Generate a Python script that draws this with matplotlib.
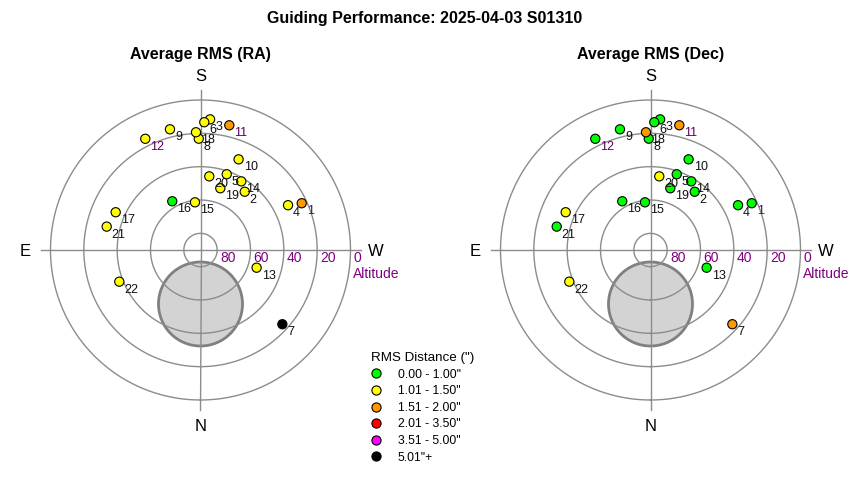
import numpy as np
import matplotlib
matplotlib.use("Agg")
import matplotlib.pyplot as plt
from matplotlib.patches import Circle
from matplotlib.lines import Line2D

plt.rcParams['font.family'] = ['Liberation Sans', 'DejaVu Sans']

# ---------------- data ----------------
title = "Guiding Performance: 2025-04-03 S01310"
panel_titles = ["Average RMS (RA)", "Average RMS (Dec)"]

point_ids = list(range(1, 23))
azimuth = [245.2, 217.2, 184.2, 242.9, 199.1, 181.7, 312.2, 179.1, 165.8, 202.8, 193.0,
           153.6, 287.5, 210.7, 173.4, 149.9, 114.0, 177.8, 197.8, 186.8, 104.0, 68.7]
altitude = [23.1, 46.1, 11.4, 31.0, 41.9, 13.3, 23.7, 23.2, 15.3, 31.0, 13.2,
            15.5, 54.7, 42.1, 61.2, 56.2, 34.3, 19.3, 51.1, 45.5, 32.0, 37.7]

# RMS class per point (index into legend_labels)
ra_class = [2, 1, 1, 1, 1, 1, 5, 1, 1, 1, 2, 1, 1, 1, 1, 0, 1, 1, 1, 1, 1, 1]
dec_class = [0, 0, 0, 0, 0, 0, 2, 0, 0, 0, 2, 0, 0, 0, 0, 0, 1, 2, 0, 1, 0, 1]

legend_title = 'RMS Distance (")'
legend_labels = ['0.00 - 1.00"', '1.01 - 1.50"', '1.51 - 2.00"',
                 '2.01 - 3.50"', '3.51 - 5.00"', '5.01"+']
legend_colors = ['#00ff00', '#ffff00', '#ff9900', '#ff0000', '#ff00ff', '#000000']

ring_altitudes = [80, 60, 40, 20, 0]
compass = [('S', 180), ('W', 270), ('N', 0), ('E', 90)]

# obstruction disk (degrees of zenith distance, toward north)
disk_offset = 32.4
disk_radius = 25.2
R_MAX = 96.0

purple_labels = {1, 11, 12}

# ---------------- figure ----------------
fig = plt.figure(figsize=(8.5, 4.8), dpi=100)
W, H = 850.0, 480.0

fig.text(425 / W, 1 - 18 / H, title, ha='center', va='center',
         fontsize=11.5, fontweight='bold')

centers_x = [200.5, 650.5]
cy = 250.0
rad_px = 160.0

for k, (cls, ptitle) in enumerate(zip([ra_class, dec_class], panel_titles)):
    cx = centers_x[k]
    ax = fig.add_axes([(cx - rad_px) / W, 1 - (cy + rad_px) / H,
                       2 * rad_px / W, 2 * rad_px / H], projection='polar')
    ax.set_theta_zero_location('S')
    ax.set_theta_direction(-1)
    ax.set_rlim(0, R_MAX)
    ax.set_axis_off()

    # disk
    disk = Circle((0.5, 0.5 - disk_offset / (2 * R_MAX)), disk_radius / (2 * R_MAX),
                  transform=ax.transAxes, facecolor='#d3d3d3', edgecolor='#808080',
                  lw=2, zorder=1)
    ax.add_patch(disk)

    th = np.linspace(0, 2 * np.pi, 721)
    for alt in ring_altitudes:
        ax.plot(th, np.full_like(th, 90 - alt), color='#8c8c8c', lw=1, zorder=2)
    for a in [0, 90, 180, 270]:
        ax.plot([np.radians(a)] * 2, [0, R_MAX], color='#8c8c8c', lw=1, zorder=2,
                clip_on=False)

    for lab, a in compass:
        ax.text(np.radians(a), 105, lab, ha='center', va='center_baseline',
                fontsize=12, clip_on=False)

    for alt in ring_altitudes:
        ax.annotate(f"{alt}", (np.radians(270), 90 - alt), xytext=(3, -12),
                    textcoords='offset pixels', ha='left', va='baseline',
                    fontsize=10, color='#800080', annotation_clip=False)
    ax.annotate("Altitude", (np.radians(270), 90), xytext=(2, -28),
                textcoords='offset pixels', ha='left', va='baseline',
                fontsize=10, color='#800080', annotation_clip=False)

    colors = [legend_colors[c] for c in cls]
    ax.scatter(np.radians(azimuth), 90 - np.array(altitude), s=44, c=colors,
               edgecolors='black', linewidths=0.8, zorder=3, clip_on=False)
    for pid, az, alt in zip(point_ids, azimuth, altitude):
        ax.annotate(str(pid), (np.radians(az), 90 - alt), xytext=(5, -11),
                    textcoords='offset pixels', ha='left', va='baseline',
                    fontsize=9, color='#600060' if pid in purple_labels else '#111111',
                    zorder=4, annotation_clip=False)

    fig.text(cx / W, 1 - 54 / H, ptitle, ha='center', va='center',
             fontsize=11.5, fontweight='bold')

handles = [Line2D([], [], marker='o', ls='', markerfacecolor=c,
                  markeredgecolor='black', markeredgewidth=0.8, markersize=6.6)
           for c in legend_colors]
leg = fig.legend(handles, legend_labels, loc='upper left',
                 bbox_to_anchor=(371 / W, 1 - 352 / H), frameon=False,
                 title=legend_title, fontsize=8.7, title_fontsize=9.6,
                 alignment='left', handletextpad=1.43, labelspacing=0.38,
                 borderpad=0, borderaxespad=0, handlelength=0.78)

fig.savefig("out.png", dpi=100)
